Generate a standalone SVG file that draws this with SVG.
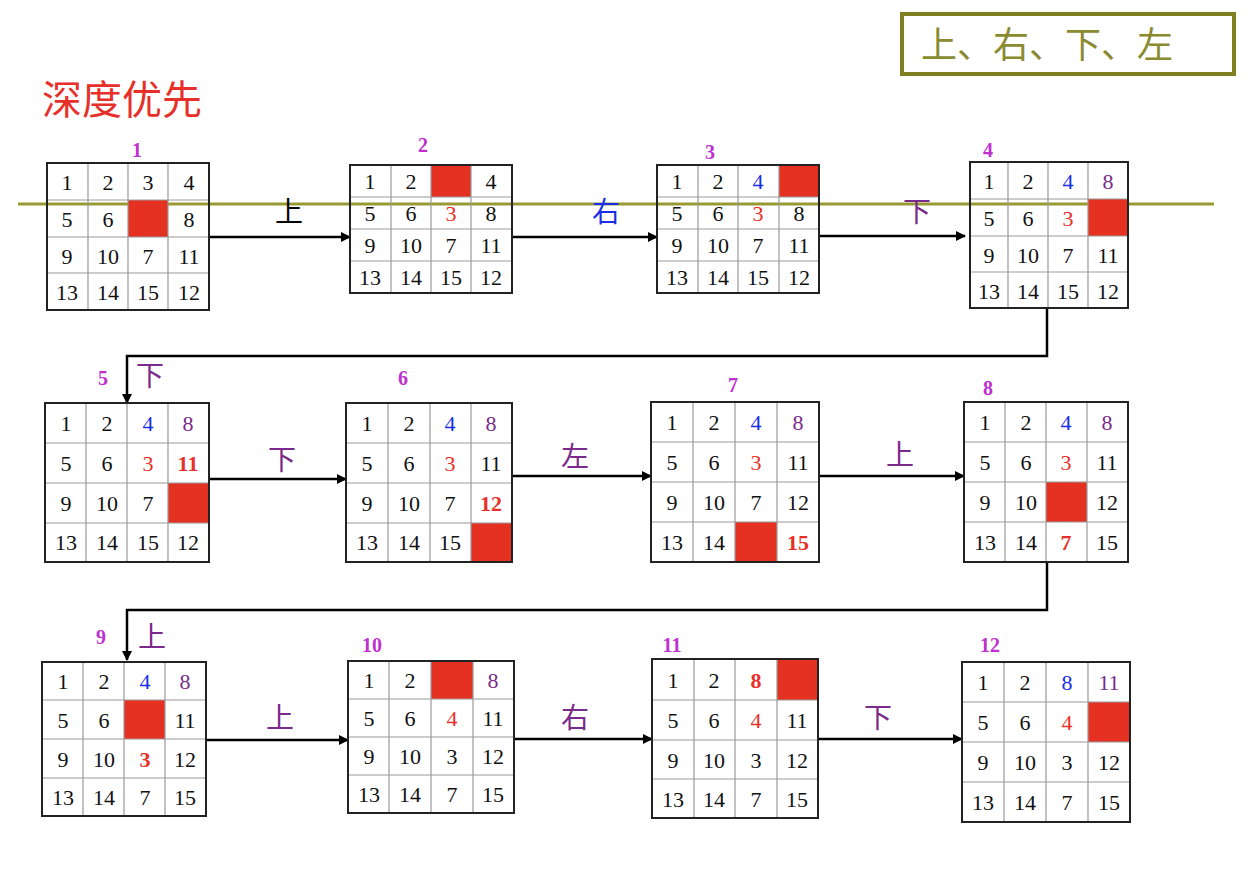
<svg xmlns="http://www.w3.org/2000/svg" width="1254" height="874" viewBox="0 0 1254 874">
<style>
.c{font-family:"Liberation Serif",serif;font-size:22px;text-anchor:middle;dominant-baseline:central;fill:#111}
.r{fill:#e8302a}.b{fill:#1a2ee8}.p{fill:#7a2a8a}.R{fill:#e8302a;font-weight:bold}
.n{font-family:"Liberation Serif",serif;font-size:20px;font-weight:bold;fill:#c030d0;text-anchor:middle}
.d{font-family:"Noto Sans CJK SC",sans-serif;font-size:28px;text-anchor:middle}
.x{fill:#e53122}
.bd{fill:none;stroke:#222;stroke-width:2}
.ln{stroke:#999;stroke-width:1.2}
.ar{fill:none;stroke:#000;stroke-width:2.5;marker-end:url(#a)}
</style>
<defs><marker id="a" markerWidth="10" markerHeight="10" refX="9" refY="5" orient="auto" markerUnits="userSpaceOnUse"><path d="M0,0 L10,5 L0,10 z" fill="#000"/></marker></defs>
<rect width="1254" height="874" fill="#fff"/>
<line x1="18" y1="204" x2="1214" y2="204" stroke="#999933" stroke-width="3"/>
<rect x="902" y="14" width="332" height="60" fill="#fff" stroke="#808020" stroke-width="4"/>
<text x="1047" y="58" font-family="Noto Sans CJK SC,sans-serif" font-size="36" fill="#8a8a30" text-anchor="middle">上、右、下、左</text>
<text x="42" y="114" font-family="Noto Sans CJK SC,sans-serif" font-size="40" fill="#e8302a">深度优先</text>
<g id="connectors">
<line class="ar" x1="209" y1="237" x2="350" y2="237"/>
<line class="ar" x1="512" y1="237" x2="657" y2="237"/>
<line class="ar" x1="819" y1="236" x2="965" y2="236"/>
<polyline class="ar" points="1047,308 1047,356 127,356 127,403"/>
<line class="ar" x1="209" y1="479" x2="346" y2="479"/>
<line class="ar" x1="512" y1="476" x2="651" y2="476"/>
<line class="ar" x1="819" y1="476" x2="964" y2="476"/>
<polyline class="ar" points="1047,562 1047,610 127,610 127,660"/>
<line class="ar" x1="206" y1="740" x2="348" y2="740"/>
<line class="ar" x1="514" y1="739" x2="652" y2="739"/>
<line class="ar" x1="818" y1="739" x2="962" y2="739"/>
<text class="d" x="289" y="222" fill="#000">上</text>
<text class="d" x="606" y="222" fill="#1a2ee8">右</text>
<text class="d" x="917" y="222" fill="#7a2a8a">下</text>
<text class="d" x="150" y="386" fill="#7a2a8a">下</text>
<text class="d" x="282" y="470" fill="#7a2a8a">下</text>
<text class="d" x="575" y="467" fill="#7a2a8a">左</text>
<text class="d" x="900" y="465" fill="#7a2a8a">上</text>
<text class="d" x="152" y="647" fill="#7a2a8a">上</text>
<text class="d" x="280" y="728" fill="#7a2a8a">上</text>
<text class="d" x="575" y="728" fill="#7a2a8a">右</text>
<text class="d" x="878" y="728" fill="#7a2a8a">下</text>
</g>
<g id="n1"><text class="n" x="137" y="157">1</text>
<rect class="x" x="128" y="200" width="40" height="37"/>
<path class="ln" d="M88,163V310M128,163V310M168,163V310M47,200H209M47,237H209M47,273H209"/>
<rect class="bd" x="47" y="163" width="162" height="147"/>
<text class="c" x="67" y="182">1</text><text class="c" x="108" y="182">2</text><text class="c" x="148" y="182">3</text><text class="c" x="189" y="182">4</text>
<text class="c" x="67" y="219">5</text><text class="c" x="108" y="219">6</text><text class="c" x="189" y="219">8</text>
<text class="c" x="67" y="256">9</text><text class="c" x="108" y="256">10</text><text class="c" x="148" y="256">7</text><text class="c" x="189" y="256">11</text>
<text class="c" x="67" y="292">13</text><text class="c" x="108" y="292">14</text><text class="c" x="148" y="292">15</text><text class="c" x="189" y="292">12</text></g>
<g id="n2"><text class="n" x="423" y="152">2</text>
<rect class="x" x="431" y="165" width="40" height="32"/>
<path class="ln" d="M391,165V293M431,165V293M471,165V293M350,197H512M350,229H512M350,261H512"/>
<rect class="bd" x="350" y="165" width="162" height="128"/>
<text class="c" x="370" y="181">1</text><text class="c" x="411" y="181">2</text><text class="c" x="491" y="181">4</text>
<text class="c" x="370" y="213">5</text><text class="c" x="411" y="213">6</text><text class="c r" x="451" y="213">3</text><text class="c" x="491" y="213">8</text>
<text class="c" x="370" y="245">9</text><text class="c" x="411" y="245">10</text><text class="c" x="451" y="245">7</text><text class="c" x="491" y="245">11</text>
<text class="c" x="370" y="277">13</text><text class="c" x="411" y="277">14</text><text class="c" x="451" y="277">15</text><text class="c" x="491" y="277">12</text></g>
<g id="n3"><text class="n" x="710" y="159">3</text>
<rect class="x" x="779" y="165" width="40" height="32"/>
<path class="ln" d="M698,165V293M738,165V293M779,165V293M657,197H819M657,229H819M657,261H819"/>
<rect class="bd" x="657" y="165" width="162" height="128"/>
<text class="c" x="677" y="181">1</text><text class="c" x="718" y="181">2</text><text class="c b" x="758" y="181">4</text>
<text class="c" x="677" y="213">5</text><text class="c" x="718" y="213">6</text><text class="c r" x="758" y="213">3</text><text class="c" x="799" y="213">8</text>
<text class="c" x="677" y="245">9</text><text class="c" x="718" y="245">10</text><text class="c" x="758" y="245">7</text><text class="c" x="799" y="245">11</text>
<text class="c" x="677" y="277">13</text><text class="c" x="718" y="277">14</text><text class="c" x="758" y="277">15</text><text class="c" x="799" y="277">12</text></g>
<g id="n4"><text class="n" x="988" y="157">4</text>
<rect class="x" x="1088" y="199" width="40" height="37"/>
<path class="ln" d="M1008,162V308M1048,162V308M1088,162V308M970,199H1128M970,236H1128M970,272H1128"/>
<rect class="bd" x="970" y="162" width="158" height="146"/>
<text class="c" x="989" y="181">1</text><text class="c" x="1028" y="181">2</text><text class="c b" x="1068" y="181">4</text><text class="c p" x="1108" y="181">8</text>
<text class="c" x="989" y="218">5</text><text class="c" x="1028" y="218">6</text><text class="c r" x="1068" y="218">3</text>
<text class="c" x="989" y="255">9</text><text class="c" x="1028" y="255">10</text><text class="c" x="1068" y="255">7</text><text class="c" x="1108" y="255">11</text>
<text class="c" x="989" y="291">13</text><text class="c" x="1028" y="291">14</text><text class="c" x="1068" y="291">15</text><text class="c" x="1108" y="291">12</text></g>
<g id="n5"><text class="n" x="103" y="385">5</text>
<rect class="x" x="168" y="483" width="41" height="40"/>
<path class="ln" d="M86,403V562M127,403V562M168,403V562M45,443H209M45,483H209M45,523H209"/>
<rect class="bd" x="45" y="403" width="164" height="159"/>
<text class="c" x="66" y="423">1</text><text class="c" x="107" y="423">2</text><text class="c b" x="148" y="423">4</text><text class="c p" x="188" y="423">8</text>
<text class="c" x="66" y="463">5</text><text class="c" x="107" y="463">6</text><text class="c r" x="148" y="463">3</text><text class="c R" x="188" y="463">11</text>
<text class="c" x="66" y="503">9</text><text class="c" x="107" y="503">10</text><text class="c" x="148" y="503">7</text>
<text class="c" x="66" y="542">13</text><text class="c" x="107" y="542">14</text><text class="c" x="148" y="542">15</text><text class="c" x="188" y="542">12</text></g>
<g id="n6"><text class="n" x="403" y="385">6</text>
<rect class="x" x="471" y="523" width="41" height="39"/>
<path class="ln" d="M388,403V562M430,403V562M471,403V562M346,443H512M346,483H512M346,523H512"/>
<rect class="bd" x="346" y="403" width="166" height="159"/>
<text class="c" x="367" y="423">1</text><text class="c" x="409" y="423">2</text><text class="c b" x="450" y="423">4</text><text class="c p" x="491" y="423">8</text>
<text class="c" x="367" y="463">5</text><text class="c" x="409" y="463">6</text><text class="c r" x="450" y="463">3</text><text class="c" x="491" y="463">11</text>
<text class="c" x="367" y="503">9</text><text class="c" x="409" y="503">10</text><text class="c" x="450" y="503">7</text><text class="c R" x="491" y="503">12</text>
<text class="c" x="367" y="542">13</text><text class="c" x="409" y="542">14</text><text class="c" x="450" y="542">15</text></g>
<g id="n7"><text class="n" x="733" y="392">7</text>
<rect class="x" x="735" y="522" width="42" height="40"/>
<path class="ln" d="M693,402V562M735,402V562M777,402V562M651,442H819M651,482H819M651,522H819"/>
<rect class="bd" x="651" y="402" width="168" height="160"/>
<text class="c" x="672" y="422">1</text><text class="c" x="714" y="422">2</text><text class="c b" x="756" y="422">4</text><text class="c p" x="798" y="422">8</text>
<text class="c" x="672" y="462">5</text><text class="c" x="714" y="462">6</text><text class="c r" x="756" y="462">3</text><text class="c" x="798" y="462">11</text>
<text class="c" x="672" y="502">9</text><text class="c" x="714" y="502">10</text><text class="c" x="756" y="502">7</text><text class="c" x="798" y="502">12</text>
<text class="c" x="672" y="542">13</text><text class="c" x="714" y="542">14</text><text class="c R" x="798" y="542">15</text></g>
<g id="n8"><text class="n" x="988" y="395">8</text>
<rect class="x" x="1046" y="482" width="41" height="40"/>
<path class="ln" d="M1005,402V562M1046,402V562M1087,402V562M964,442H1128M964,482H1128M964,522H1128"/>
<rect class="bd" x="964" y="402" width="164" height="160"/>
<text class="c" x="985" y="422">1</text><text class="c" x="1026" y="422">2</text><text class="c b" x="1066" y="422">4</text><text class="c p" x="1107" y="422">8</text>
<text class="c" x="985" y="462">5</text><text class="c" x="1026" y="462">6</text><text class="c r" x="1066" y="462">3</text><text class="c" x="1107" y="462">11</text>
<text class="c" x="985" y="502">9</text><text class="c" x="1026" y="502">10</text><text class="c" x="1107" y="502">12</text>
<text class="c" x="985" y="542">13</text><text class="c" x="1026" y="542">14</text><text class="c R" x="1066" y="542">7</text><text class="c" x="1107" y="542">15</text></g>
<g id="n9"><text class="n" x="101" y="644">9</text>
<rect class="x" x="124" y="700" width="41" height="39"/>
<path class="ln" d="M83,662V816M124,662V816M165,662V816M42,700H206M42,739H206M42,778H206"/>
<rect class="bd" x="42" y="662" width="164" height="154"/>
<text class="c" x="63" y="681">1</text><text class="c" x="104" y="681">2</text><text class="c b" x="145" y="681">4</text><text class="c p" x="185" y="681">8</text>
<text class="c" x="63" y="720">5</text><text class="c" x="104" y="720">6</text><text class="c" x="185" y="720">11</text>
<text class="c" x="63" y="759">9</text><text class="c" x="104" y="759">10</text><text class="c R" x="145" y="759">3</text><text class="c" x="185" y="759">12</text>
<text class="c" x="63" y="797">13</text><text class="c" x="104" y="797">14</text><text class="c" x="145" y="797">7</text><text class="c" x="185" y="797">15</text></g>
<g id="n10"><text class="n" x="372" y="652">10</text>
<rect class="x" x="431" y="661" width="42" height="38"/>
<path class="ln" d="M389,661V813M431,661V813M473,661V813M348,699H514M348,737H514M348,775H514"/>
<rect class="bd" x="348" y="661" width="166" height="152"/>
<text class="c" x="369" y="680">1</text><text class="c" x="410" y="680">2</text><text class="c p" x="493" y="680">8</text>
<text class="c" x="369" y="718">5</text><text class="c" x="410" y="718">6</text><text class="c r" x="452" y="718">4</text><text class="c" x="493" y="718">11</text>
<text class="c" x="369" y="756">9</text><text class="c" x="410" y="756">10</text><text class="c" x="452" y="756">3</text><text class="c" x="493" y="756">12</text>
<text class="c" x="369" y="794">13</text><text class="c" x="410" y="794">14</text><text class="c" x="452" y="794">7</text><text class="c" x="493" y="794">15</text></g>
<g id="n11"><text class="n" x="672" y="652">11</text>
<rect class="x" x="777" y="659" width="41" height="41"/>
<path class="ln" d="M694,659V818M735,659V818M777,659V818M652,700H818M652,740H818M652,779H818"/>
<rect class="bd" x="652" y="659" width="166" height="159"/>
<text class="c" x="673" y="680">1</text><text class="c" x="714" y="680">2</text><text class="c R" x="756" y="680">8</text>
<text class="c" x="673" y="720">5</text><text class="c" x="714" y="720">6</text><text class="c r" x="756" y="720">4</text><text class="c" x="797" y="720">11</text>
<text class="c" x="673" y="760">9</text><text class="c" x="714" y="760">10</text><text class="c" x="756" y="760">3</text><text class="c" x="797" y="760">12</text>
<text class="c" x="673" y="799">13</text><text class="c" x="714" y="799">14</text><text class="c" x="756" y="799">7</text><text class="c" x="797" y="799">15</text></g>
<g id="n12"><text class="n" x="990" y="652">12</text>
<rect class="x" x="1088" y="702" width="42" height="40"/>
<path class="ln" d="M1004,662V822M1046,662V822M1088,662V822M962,702H1130M962,742H1130M962,782H1130"/>
<rect class="bd" x="962" y="662" width="168" height="160"/>
<text class="c" x="983" y="682">1</text><text class="c" x="1025" y="682">2</text><text class="c b" x="1067" y="682">8</text><text class="c p" x="1109" y="682">11</text>
<text class="c" x="983" y="722">5</text><text class="c" x="1025" y="722">6</text><text class="c r" x="1067" y="722">4</text>
<text class="c" x="983" y="762">9</text><text class="c" x="1025" y="762">10</text><text class="c" x="1067" y="762">3</text><text class="c" x="1109" y="762">12</text>
<text class="c" x="983" y="802">13</text><text class="c" x="1025" y="802">14</text><text class="c" x="1067" y="802">7</text><text class="c" x="1109" y="802">15</text></g>
</svg>
